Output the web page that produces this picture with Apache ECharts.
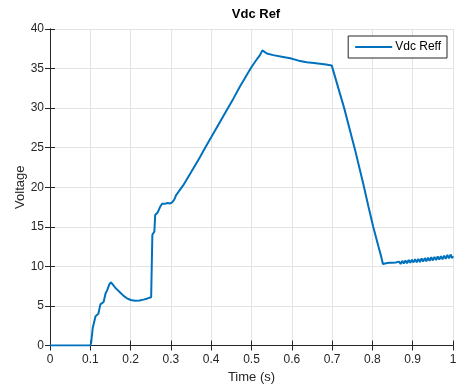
<!DOCTYPE html>
<html>
<head>
<meta charset="utf-8">
<script src="https://cdn.jsdelivr.net/npm/echarts@6/dist/echarts.min.js"></script>
<style>
  html, body { margin: 0; padding: 0; background: #fff; }
  #chart { width: 457px; height: 385px; }
</style>
</head>
<body>
<div id="chart"></div>
<script>
// Time samples (s) and reference DC voltage (V)
const timeS = [
  0, 0.1, 0.102, 0.106, 0.109, 0.113, 0.117, 0.12, 0.125, 0.129, 0.133, 0.138, 0.142, 0.147, 0.151,
  0.156, 0.162, 0.168, 0.174, 0.182, 0.19, 0.2, 0.211, 0.222, 0.232, 0.242, 0.251, 0.253,
  0.254, 0.257, 0.259, 0.261, 0.263, 0.267, 0.27, 0.273, 0.278, 0.285, 0.292, 0.298, 0.303,
  0.308, 0.313, 0.32, 0.33, 0.35, 0.372, 0.385, 0.401, 0.42, 0.438, 0.455, 0.471, 0.486, 0.5,
  0.515, 0.521, 0.527, 0.53, 0.538, 0.554, 0.575, 0.596, 0.617, 0.637, 0.655, 0.67, 0.685,
  0.699, 0.703, 0.73, 0.757, 0.777, 0.79, 0.802, 0.815, 0.822, 0.826,
  0.83, 0.834, 0.838, 0.842, 0.846, 0.85, 0.854, 0.858, 0.862, 0.866, 0.87, 0.874, 0.878,
  0.882, 0.886, 0.89, 0.894, 0.898, 0.902, 0.906, 0.91, 0.914, 0.918, 0.922, 0.926, 0.93,
  0.934, 0.938, 0.942, 0.946, 0.95, 0.954, 0.958, 0.962, 0.966, 0.97, 0.974, 0.978, 0.982,
  0.986, 0.99, 0.994, 0.998, 1.0
];
const vdcRef = [
  0, 0, 0.3, 2.2, 2.3, 3.7, 3.9, 4.0, 5.2, 5.3, 5.5, 6.6, 7.0, 7.7, 8.0,
  7.7, 7.3, 7.0, 6.7, 6.3, 6.0, 5.75, 5.65, 5.7, 5.8, 5.95, 6.1, 6.2,
  14.0, 14.2, 14.4, 16.5, 16.7, 16.8, 16.7, 17.5, 17.9, 17.9, 18.0, 17.95, 18.1,
  18.4, 19.0, 19.5, 20.2, 21.9, 23.8, 25.0, 26.4, 28.1, 29.7, 31.2, 32.7, 34.0, 35.2,
  36.3, 36.7, 37.3, 37.1, 36.9, 36.7, 36.5, 36.3, 36.0, 35.8, 35.7, 35.6, 35.5,
  35.4, 35.3, 30.0, 24.7, 20.5, 17.6, 15.0, 12.5, 11.2, 10.3,
  10.2, 10.4, 10.2, 10.45, 10.2, 10.45, 10.25, 10.5, 10.25, 10.6, 10.3, 10.7, 10.35,
  10.75, 10.4, 10.8, 10.45, 10.85, 10.5, 10.9, 10.5, 10.95, 10.55, 11.0, 10.6, 11.05,
  10.65, 11.1, 10.7, 11.15, 10.75, 11.2, 10.8, 11.25, 10.85, 11.3, 10.9, 11.35, 10.95,
  11.45, 11.0, 11.5, 11.05, 11.3
];
const seriesName = 'Vdc Reff';
const xTicks = [0, 0.1, 0.2, 0.3, 0.4, 0.5, 0.6, 0.7, 0.8, 0.9, 1];
const yTicks = [0, 5, 10, 15, 20, 25, 30, 35, 40];

const ink = '#262626';
const font = '"Liberation Sans", Arial, Helvetica, sans-serif';

const points = timeS.map((t, i) => [t, vdcRef[i]]);

const baseX = {
  type: 'value', min: 0, max: 1, interval: 0.1,
  axisLine: { show: true, lineStyle: { color: ink, width: 1 } },
  axisTick: { show: true, inside: true, length: 5, lineStyle: { color: ink } },
  splitLine: { show: false }
};
const baseY = {
  type: 'value', min: 0, max: 40, interval: 5,
  axisLine: { show: true, lineStyle: { color: ink, width: 1 } },
  axisTick: { show: true, inside: true, length: 5, lineStyle: { color: ink } },
  splitLine: { show: false }
};

const chart = echarts.init(document.getElementById('chart'), null, { renderer: 'canvas' });
chart.setOption({
  animation: false,
  backgroundColor: '#fff',
  textStyle: { fontFamily: font },
  title: {
    text: 'Vdc Ref', left: 251, top: 3, textAlign: 'center',
    textStyle: { fontSize: 13, fontWeight: 'bold', color: '#000', fontFamily: font }
  },
  grid: { left: 50, right: 4, top: 29, bottom: 39.5, containLabel: false, outerBoundsMode: 'none' },
  legend: {
    data: [seriesName], right: 10, top: 36, orient: 'vertical',
    backgroundColor: '#fff', borderColor: ink, borderWidth: 1, borderRadius: 0,
    padding: [5, 6, 5, 6], itemWidth: 37, itemHeight: 2, itemGap: 4,
    textStyle: { fontSize: 12, color: '#000', fontFamily: font, padding: [0, 0, 0, -2] }
  },
  xAxis: [
    Object.assign({}, baseX, {
      position: 'bottom',
      name: 'Time (s)', nameLocation: 'middle', nameGap: 25,
      nameTextStyle: { fontSize: 13, color: ink, fontFamily: font },
      axisLabel: {
        color: ink, fontSize: 12, margin: 8, fontFamily: font,
        formatter: v => xTicks.find(t => Math.abs(t - v) < 1e-9) !== undefined ? String(Math.round(v * 10) / 10) : ''
      },
      splitLine: { show: true, lineStyle: { color: '#e3e3e3', width: 1 } }
    }),
    Object.assign({}, baseX, { position: 'top', axisLabel: { show: false } })
  ],
  yAxis: [
    Object.assign({}, baseY, {
      position: 'left',
      name: 'Voltage', nameLocation: 'middle', nameGap: 23, nameMoveOverlap: false,
      nameTextStyle: { fontSize: 13, color: ink, fontFamily: font },
      axisLabel: { color: ink, fontSize: 12, margin: 6, fontFamily: font,
        formatter: v => yTicks.indexOf(v) >= 0 ? String(v) : '' },
      splitLine: { show: true, lineStyle: { color: '#e3e3e3', width: 1 } }
    }),
    Object.assign({}, baseY, { position: 'right', axisLabel: { show: false } })
  ],
  series: [{
    name: seriesName, type: 'line', data: points,
    xAxisIndex: 0, yAxisIndex: 0,
    symbol: 'none', showSymbol: false,
    lineStyle: { color: '#0072BD', width: 2 },
    itemStyle: { color: '#0072BD' }
  }]
});
</script>
</body>
</html>
